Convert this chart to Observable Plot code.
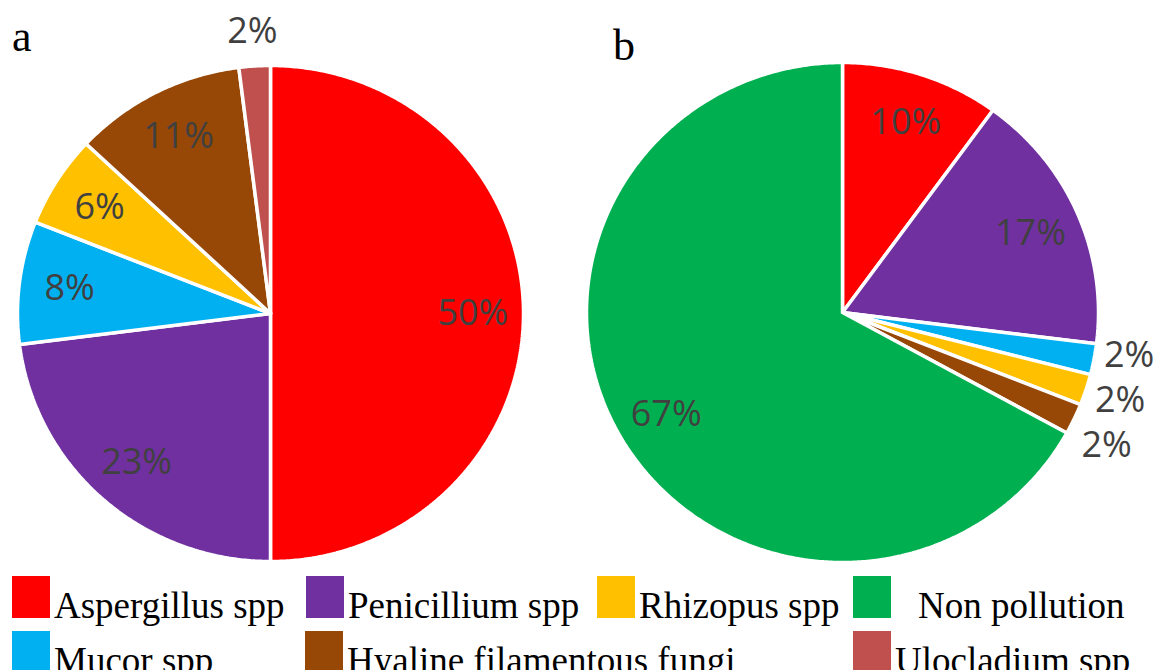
<!DOCTYPE html>
<html>
<head>
<meta charset="utf-8">
<script src="https://cdn.jsdelivr.net/npm/d3@7"></script>
<script src="https://cdn.jsdelivr.net/npm/@observablehq/plot@0.6"></script>
<style>
  body { margin: 0; background: #fff; }
  #wrap { position: relative; width: 1158px; height: 670px; overflow: hidden; background: #fff; }
  .panel { position: absolute; font-family: "Liberation Serif", "Times New Roman", serif; font-size: 44px; line-height: 44px; color: #000; }
  .item { position: absolute; font-family: "Liberation Serif", "Times New Roman", serif; font-size: 37px; line-height: 42px; white-space: nowrap; color: #000; }
  .sw { display: inline-block; width: 38px; height: 42px; vertical-align: baseline; margin-right: 4px; }
</style>
</head>
<body>
<div id="wrap"></div>
<script>
// ---- data ----
const categories = ["Aspergillus spp", "Penicillium spp", "Mucor spp", "Rhizopus spp",
  "Hyaline filamentous fungi", "Ulocladium spp", "Non pollution"];
const categoryColors = ["#FF0000", "#7030A0", "#00B0F0", "#FFC000", "#974706", "#C0504D", "#00B050"];

const panelACategories = ["Aspergillus spp", "Penicillium spp", "Mucor spp", "Rhizopus spp",
  "Hyaline filamentous fungi", "Ulocladium spp"];
const panelAValues = [50, 23, 8, 6, 11, 2];

const panelBCategories = ["Aspergillus spp", "Penicillium spp", "Mucor spp", "Rhizopus spp",
  "Hyaline filamentous fungi", "Non pollution"];
const panelBValues = [10, 17, 2, 2, 2, 67];

const panelLabels = ["a", "b"];
const legendRow1 = ["Aspergillus spp", "Penicillium spp", "Rhizopus spp", "Non pollution"];
const legendRow2 = ["Mucor spp", "Hyaline filamentous fungi", null, "Ulocladium spp"];

// ---- layout (positions / sizes) ----
const W = 1158, H = 575;
const pieLayout = [
  {cx: 270, cy: 313, rx: 253, ry: 248},
  {cx: 842, cy: 312, rx: 256, ry: 250}
];
const panelLetterPos = [{left: 12, top: 15}, {left: 613, top: 24}];
const legendCols = [[12, 306, 597, 853], [12, 305, 597, 853]];
const legendRowTops = [576, 631];
const labelSpacing = 45;

// ---- build slice geometry with d3.pie ----
const pie = d3.pie().sort(null).value(d => d.value).startAngle(0).endAngle(2 * Math.PI);
const slicePts = [];
const labels = [];
[[panelACategories, panelAValues], [panelBCategories, panelBValues]].forEach(([cats, vals], pi) => {
  const L = pieLayout[pi];
  const arcs = pie(cats.map((c, i) => ({category: c, value: vals[i]})));
  const outside = [];
  arcs.forEach((a, si) => {
    const key = panelLabels[pi] + si;
    const px = ang => L.cx + L.rx * Math.sin(ang);
    const py = ang => L.cy - L.ry * Math.cos(ang);
    slicePts.push({key, category: a.data.category, x: L.cx, y: L.cy});
    const n = Math.max(2, Math.ceil((a.endAngle - a.startAngle) / (Math.PI / 360)));
    for (let k = 0; k <= n; k++) {
      const ang = a.startAngle + (a.endAngle - a.startAngle) * k / n;
      slicePts.push({key, category: a.data.category, x: px(ang), y: py(ang)});
    }
    slicePts.push({key, category: a.data.category, x: L.cx, y: L.cy});
    const mid = (a.startAngle + a.endAngle) / 2;
    const isOut = a.data.value < 5;
    const f = isOut ? 1.14 : 0.8;
    const lab = {
      text: `${a.data.value}%`,
      x: L.cx + L.rx * f * Math.sin(mid),
      y: L.cy - L.ry * f * Math.cos(mid)
    };
    labels.push(lab);
    if (isOut) outside.push(lab);
  });
  // spread clustered outside labels so they do not overlap
  if (outside.length > 1) {
    outside.sort((p, q) => p.y - q.y);
    const tight = d3.pairs(outside).some(([p, q]) => q.y - p.y < labelSpacing);
    if (tight) {
      const m = d3.mean(outside, d => d.y);
      outside.forEach((d, i) => { d.y = m + (i - (outside.length - 1) / 2) * labelSpacing; });
    }
  }
});

const chart = Plot.plot({
  width: W,
  height: H,
  margin: 0,
  x: {type: "linear", domain: [0, W], range: [0, W], axis: null},
  y: {type: "linear", domain: [0, H], range: [0, H], axis: null},
  color: {domain: categories, range: categoryColors},
  marks: [
    Plot.line(slicePts, {
      x: "x", y: "y", z: "key", fill: "category",
      stroke: "white", strokeWidth: 3.5, strokeLinejoin: "miter", curve: "linear"
    }),
    Plot.text(labels, {
      x: "x", y: "y", text: "text",
      fontFamily: "'Open Sans', sans-serif", fontSize: 36, fill: "#404040",
      textAnchor: "middle"
    })
  ]
});

const wrap = document.getElementById("wrap");
wrap.appendChild(chart);

panelLabels.forEach((t, i) => {
  const d = document.createElement("div");
  d.className = "panel";
  d.textContent = t;
  d.style.left = panelLetterPos[i].left + "px";
  d.style.top = panelLetterPos[i].top + "px";
  wrap.appendChild(d);
});

[legendRow1, legendRow2].forEach((row, ri) => {
  row.forEach((cat, ci) => {
    if (!cat) return;
    const d = document.createElement("div");
    d.className = "item";
    d.style.left = legendCols[ri][ci] + "px";
    d.style.top = legendRowTops[ri] + "px";
    const sw = document.createElement("span");
    sw.className = "sw";
    sw.style.background = categoryColors[categories.indexOf(cat)];
    if (cat === "Non pollution") sw.style.marginRight = "27px";
    d.appendChild(sw);
    d.appendChild(document.createTextNode(cat));
    wrap.appendChild(d);
  });
});
</script>
</body>
</html>
